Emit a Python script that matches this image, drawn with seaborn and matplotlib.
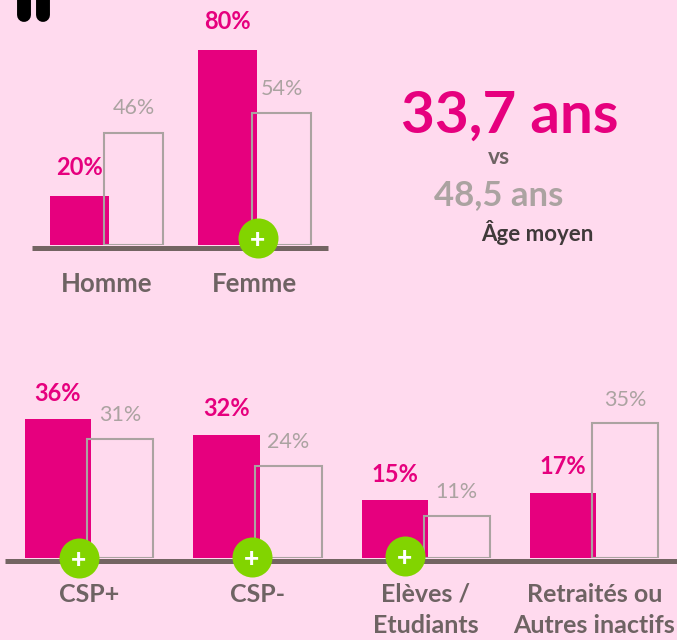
import matplotlib
matplotlib.use("Agg")
import matplotlib.pyplot as plt
import seaborn as sns
import numpy as np

W, H = 677, 640
BG = "#FFDAEE"
PINK = "#E6007E"
GREY = "#ABA3A1"
AXIS = "#736462"
GREEN = "#82D400"
TEXT = "#6E6363"

gender_cats = ["Homme", "Femme"]
gender_pink = [20, 80]
gender_grey = [46, 54]

csp_cats = ["CSP+", "CSP-", "Elèves /\nEtudiants", "Retraités ou\nAutres inactifs"]
csp_pink = [36, 32, 15, 17]
csp_grey = [31, 24, 11, 35]

sns.set_theme(style="white")
plt.rcParams["font.family"] = ["Lato", "DejaVu Sans"]


def px_axes(fig, left, right, top, bottom):
    return fig.add_axes([left / W, 1 - bottom / H, (right - left) / W, (bottom - top) / H])


def draw_group(ax, cats, pink, grey, offset, width, xlim, ymax, pink_off, grey_off, tick_pad, tick_size):
    pos = np.arange(len(cats))
    sns.barplot(x=pos, y=pink, native_scale=True, width=width, color=PINK,
                saturation=1, linewidth=0, ax=ax, zorder=2)
    sns.barplot(x=pos + offset, y=grey, native_scale=True, width=width, color=GREY,
                saturation=1, fill=False, linewidth=1.5, ax=ax, zorder=3)
    for i in pos:
        ax.annotate(f"{pink[i]}%", (i, pink[i]), xytext=(0, pink_off), textcoords="offset points",
                    ha="center", va="center", color=PINK, fontsize=17, fontweight="bold")
        ax.annotate(f"{grey[i]}%", (i + offset, grey[i]), xytext=(0, grey_off), textcoords="offset points",
                    ha="center", va="center", color=GREY, fontsize=15.5)
    for side in ["top", "left", "right"]:
        ax.spines[side].set_visible(False)
    # set_position resets the ticks, so it has to come before the tick styling
    ax.spines["bottom"].set_position(("outward", 1.8))
    ax.spines["bottom"].set_color(AXIS)
    ax.spines["bottom"].set_linewidth(3.6)
    ax.spines["bottom"].set_capstyle("butt")
    ax.spines["bottom"].set_zorder(4)
    ax.set_xlim(*xlim)
    ax.set_ylim(0, ymax)
    ax.set_xticks(pos + offset / 2)
    ax.set_xticklabels(cats)
    ax.tick_params(axis="x", length=0, pad=tick_pad, labelsize=tick_size, labelcolor=TEXT)
    for lab in ax.get_xticklabels():
        lab.set_fontweight("bold")
        lab.set_linespacing(1.46)
    ax.set_yticks([])
    ax.set_xlabel("")
    ax.set_ylabel("")
    ax.patch.set_alpha(0)


fig = plt.figure(figsize=(W / 100, H / 100), dpi=100, facecolor=BG)

ax_top = px_axes(fig, 32, 328, 0, 245)
draw_group(ax_top, gender_cats, gender_pink, gender_grey, 54 / 148, 59 / 148,
           (-47.5 / 148, 248.5 / 148), 245 / 2.44, 20.5, 17.5, 18, 18.5)

ax_bot = px_axes(fig, 5, 677, 380, 558)
draw_group(ax_bot, csp_cats, csp_pink, csp_grey, 62 / 168.4, 66.5 / 168.4,
           (-53 / 168.4, 619 / 168.4), 178 / 3.85, 18.8, 17, 16, 18)

# overlay in pixel coordinates for badges and the side texts
over = fig.add_axes([0, 0, 1, 1], zorder=10)
over.set_xlim(0, W)
over.set_ylim(H, 0)
over.axis("off")
over.patch.set_alpha(0)

for bx, by in [(257.5, 238), (79, 558), (251.5, 557), (405, 556)]:
    over.plot([bx], [by], marker="o", ms=28.8, mfc=GREEN, mec="none", ls="none")
    over.text(bx, by, "+", color="white", fontsize=19, fontweight="black", ha="center", va="center_baseline")

for bx in [24, 43]:
    over.plot([bx, bx], [-20, 15], color="black", lw=10, solid_capstyle="round")

over.text(510, 133, "33,7 ans", color=PINK, fontsize=42, fontweight="bold", ha="center", va="baseline")
over.text(499, 164, "vs", color=TEXT, fontsize=16.5, fontweight="bold", ha="center", va="baseline")
over.text(499, 205, "48,5 ans", color=GREY, fontsize=25, fontweight="bold", ha="center", va="baseline")
over.text(537.5, 241, "Âge moyen", color="#403A3A", fontsize=16, fontweight="bold", ha="center", va="baseline")

fig.savefig("out.png", dpi=100, facecolor=BG)
